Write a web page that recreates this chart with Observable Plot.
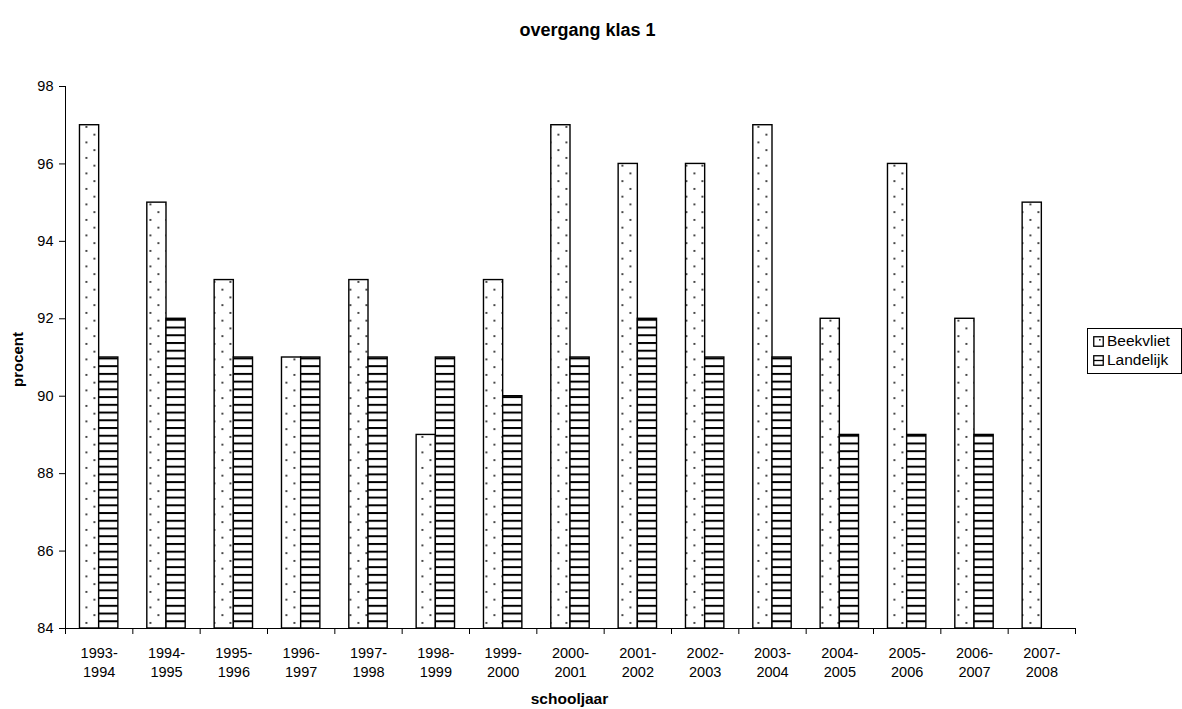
<!DOCTYPE html>
<html>
<head>
<meta charset="utf-8">
<script src="https://cdn.jsdelivr.net/npm/d3@7"></script>
<script src="https://cdn.jsdelivr.net/npm/@observablehq/plot@0.6"></script>
<style>
  html, body { margin: 0; padding: 0; background: #fff; }
  #wrap { position: relative; width: 1182px; height: 709px; font-family: "Liberation Sans", Arial, sans-serif; }
  #legend { position: absolute; left: 1087px; top: 328px; width: 95px; height: 46px; border: 1px solid #000; box-sizing: border-box; font-size: 15.5px; color: #000; }
  .item { position: absolute; left: 5px; display: flex; align-items: center; line-height: 18px; }
  .item svg { margin-right: 3px; }
</style>
</head>
<body>
<div id="wrap">
  <div id="chart"></div>
  <div id="legend">
    <div class="item" style="top:3px"><svg width="11" height="11"><rect x="0.75" y="0.75" width="9.5" height="9.5" fill="#fff" stroke="#000" stroke-width="1.3"/><rect x="6" y="3" width="1.6" height="1.6" fill="#222"/></svg>Beekvliet</div>
    <div class="item" style="top:22px"><svg width="11" height="11"><rect x="0.75" y="0.75" width="9.5" height="9.5" fill="#fff" stroke="#000" stroke-width="1.3"/><line x1="1" x2="10" y1="5.5" y2="5.5" stroke="#000" stroke-width="1.3"/></svg>Landelijk</div>
  </div>
</div>
<script>
const years = ["1993-1994","1994-1995","1995-1996","1996-1997","1997-1998","1998-1999","1999-2000","2000-2001","2001-2002","2002-2003","2003-2004","2004-2005","2005-2006","2006-2007","2007-2008"];
const beekvliet = [97, 95, 93, 91, 93, 89, 93, 97, 96, 96, 97, 92, 96, 92, 95];
const landelijk = [91, 92, 91, 91, 91, 91, 90, 91, 92, 91, 91, 89, 89, 89, null];
const yTicks = [84, 86, 88, 90, 92, 94, 96, 98];

const W = 1182, H = 709;
const mLeft = 65, mRight = 107, mTop = 86, mBottom = 81;
const bw = (W - mLeft - mRight) / years.length;

const dataB = years.map((y, i) => ({year: y, value: beekvliet[i]}));
const dataL = years.map((y, i) => ({year: y, value: landelijk[i]})).filter(d => d.value != null);

const font = "Liberation Sans, Arial, sans-serif";

const chart = Plot.plot({
  width: W,
  height: H,
  marginLeft: mLeft,
  marginRight: mRight,
  marginTop: mTop,
  marginBottom: mBottom,
  style: {fontFamily: font, fontSize: "14px", color: "#000", background: "#fff"},
  x: {domain: years, padding: 0, round: false, label: null},
  y: {domain: [84, 98], label: null},
  marks: [
    Plot.barY(dataB, {x: "year", y1: 84, y2: "value", fill: "url(#dots)", stroke: "#000", strokeWidth: 1.4, insetLeft: bw * 0.215, insetRight: bw * 0.5}),
    Plot.barY(dataL, {x: "year", y1: 84, y2: "value", fill: "url(#stripes)", stroke: "#000", strokeWidth: 1.4, insetLeft: bw * 0.5, insetRight: bw * 0.215}),
    Plot.ruleY([84], {stroke: "#000", strokeWidth: 1}),
    Plot.ruleX([years[0]], {x: d => d, dx: -bw / 2, stroke: "#000", strokeWidth: 1}),
    Plot.ruleX(years, {x: d => d, y1: 84, y2: 84, insetBottom: -6, dx: -bw / 2, stroke: "#000"}),
    Plot.ruleX([years[years.length - 1]], {x: d => d, y1: 84, y2: 84, insetBottom: -6, dx: bw / 2, stroke: "#000"}),
    Plot.axisY({ticks: yTicks, tickSize: 6, tickPadding: 6, fontSize: 14.5, label: null}),
    Plot.axisX({tickSize: 0, tickPadding: 16, fontSize: 14.5, lineHeight: 1.3, tickFormat: d => d.replace("-", "-\n"), label: null}),
    Plot.text(["overgang klas 1"], {frameAnchor: "top", lineAnchor: "middle", dy: -56, dx: 17, fontWeight: "bold", fontSize: 18}),
    Plot.text(["schooljaar"], {frameAnchor: "bottom", lineAnchor: "middle", dy: 71, dx: -1, fontWeight: "bold", fontSize: 15.5}),
    Plot.text(["procent"], {frameAnchor: "left", textAnchor: "middle", lineAnchor: "middle", dx: -47, dy: 2, rotate: -90, fontWeight: "bold", fontSize: 15})
  ]
});

const svg = d3.select(chart);
const defs = svg.insert("defs", ":first-child");
const dots = defs.append("pattern").attr("id", "dots").attr("patternUnits", "userSpaceOnUse")
  .attr("width", 16).attr("height", 15.5).attr("x", bw * 0.215 + mLeft + 6 - 16).attr("y", 0);
dots.append("rect").attr("width", 16).attr("height", 15.5).attr("fill", "#fff");
dots.append("rect").attr("x", 0).attr("y", 2).attr("width", 1.8).attr("height", 1.8).attr("fill", "#222");
dots.append("rect").attr("x", 8).attr("y", 9.75).attr("width", 1.8).attr("height", 1.8).attr("fill", "#222");
const stripes = defs.append("pattern").attr("id", "stripes").attr("patternUnits", "userSpaceOnUse")
  .attr("width", 8).attr("height", 7.73).attr("y", 628);
stripes.append("rect").attr("width", 8).attr("height", 7.73).attr("fill", "#fff");
stripes.append("rect").attr("y", 0).attr("width", 8).attr("height", 2).attr("fill", "#000");

document.getElementById("chart").appendChild(chart);
</script>
</body>
</html>
